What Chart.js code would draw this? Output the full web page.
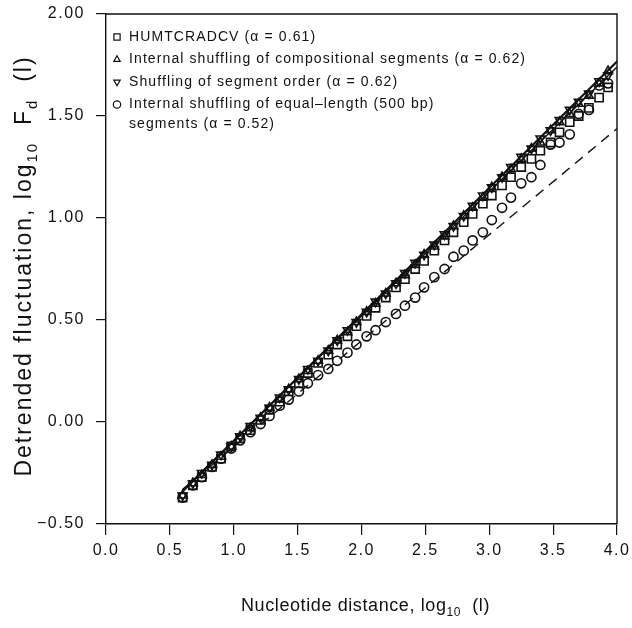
<!DOCTYPE html>
<html>
<head>
<meta charset="utf-8">
<script src="https://cdn.jsdelivr.net/npm/chart.js@4.4.0/dist/chart.umd.min.js"></script>
<style>
  html, body { margin: 0; padding: 0; background: #ffffff; }
  #wrap { width: 632px; height: 628px; }
</style>
</head>
<body>
<div id="wrap"><canvas id="dfa" width="632" height="628"></canvas></div>
<script>
// log10 of nucleotide distance l
const xDistance = [0.60, 0.68, 0.75, 0.83, 0.90, 0.98, 1.05, 1.13, 1.21, 1.28,
  1.36, 1.43, 1.51, 1.58, 1.66, 1.74, 1.81, 1.89, 1.96, 2.04,
  2.11, 2.19, 2.27, 2.34, 2.42, 2.49, 2.57, 2.65, 2.72, 2.80,
  2.87, 2.95, 3.02, 3.10, 3.17, 3.25, 3.33, 3.40, 3.48, 3.55,
  3.63, 3.70, 3.78, 3.86, 3.93];

// log10 Fd(l) for each sequence
const humtcradcv = [-0.37, -0.31, -0.27, -0.22, -0.18, -0.12, -0.08, -0.04, 0.01, 0.06,
  0.10, 0.15, 0.19, 0.24, 0.29, 0.33, 0.38, 0.42, 0.47, 0.52,
  0.56, 0.61, 0.66, 0.70, 0.75, 0.79, 0.84, 0.89, 0.93, 0.98,
  1.02, 1.07, 1.11, 1.16, 1.20, 1.25, 1.29, 1.33, 1.37, 1.42,
  1.47, 1.50, 1.54, 1.59, 1.64];
const shuffledCompositional = [-0.36, -0.30, -0.26, -0.21, -0.17, -0.12, -0.07, -0.03, 0.02, 0.07,
  0.11, 0.16, 0.21, 0.25, 0.30, 0.35, 0.40, 0.44, 0.49, 0.54,
  0.58, 0.63, 0.68, 0.72, 0.77, 0.82, 0.86, 0.91, 0.96, 1.01,
  1.05, 1.10, 1.15, 1.20, 1.24, 1.29, 1.34, 1.37, 1.43, 1.47,
  1.51, 1.56, 1.60, 1.66, 1.72];
const shuffledOrder = [-0.36, -0.30, -0.25, -0.21, -0.16, -0.12, -0.07, -0.02, 0.02, 0.07,
  0.12, 0.16, 0.21, 0.26, 0.30, 0.35, 0.40, 0.45, 0.49, 0.54,
  0.59, 0.63, 0.68, 0.73, 0.78, 0.82, 0.87, 0.92, 0.96, 1.01,
  1.06, 1.11, 1.15, 1.20, 1.25, 1.30, 1.34, 1.39, 1.43, 1.48,
  1.53, 1.57, 1.61, 1.67, 1.70];
const shuffledEqualLength = [-0.37, -0.31, -0.27, -0.22, -0.18, -0.13, -0.09, -0.05, -0.01, 0.03,
  0.08, 0.11, 0.15, 0.19, 0.23, 0.26, 0.30, 0.34, 0.38, 0.42,
  0.45, 0.49, 0.53, 0.57, 0.61, 0.66, 0.71, 0.75, 0.81, 0.84,
  0.89, 0.93, 0.99, 1.05, 1.10, 1.17, 1.20, 1.26, 1.36, 1.37,
  1.41, 1.51, 1.53, 1.65, 1.66];

// fitted power-law lines (end points)
const fitX = [0.60, 4.00];
const fitOriginal = [-0.334, 1.740];
const fitCompositional = [-0.343, 1.765];
const fitOrder = [-0.338, 1.770];
const fitEqualLength = [-0.330, 1.438];

const yTicks = [-0.5, 0.0, 0.5, 1.0, 1.5, 2.0];
const xTicks = [0.0, 0.5, 1.0, 1.5, 2.0, 2.5, 3.0, 3.5, 4.0];

const legendItems = [
  { style: 'rect', rotation: 0, lines: ['HUMTCRADCV (\u03b1 = 0.61)'] },
  { style: 'triangle', rotation: 0, lines: ['Internal shuffling of compositional segments (\u03b1 = 0.62)'] },
  { style: 'triangle', rotation: 180, lines: ['Shuffling of segment order (\u03b1 = 0.62)'] },
  { style: 'circle', rotation: 0, lines: ['Internal shuffling of equal\u2013length (500 bp)', 'segments (\u03b1 = 0.52)'] }
];

const FONT = "'Liberation Sans', Arial, Helvetica, sans-serif";
const INK = '#111111';
const toPoints = (xs, ys) => xs.map((x, i) => ({ x: x, y: ys[i] }));

function markerSet(label, ys, style, rotation, radius) {
  return {
    type: 'scatter',
    label: label,
    data: toPoints(xDistance, ys),
    pointStyle: style,
    rotation: rotation,
    pointRadius: radius,
    pointHoverRadius: radius,
    pointBorderWidth: 1.6,
    pointBorderColor: INK,
    pointBackgroundColor: 'rgba(255,255,255,0)',
    showLine: false
  };
}

function fitSet(label, ys, dash) {
  return {
    type: 'line',
    label: label,
    data: toPoints(fitX, ys),
    borderColor: INK,
    borderWidth: 1.4,
    borderDash: dash,
    pointRadius: 0,
    fill: false,
    tension: 0
  };
}

// wider tracking for the axis numbers
const tracking = {
  id: 'tracking',
  beforeDraw(chart) { chart.ctx.letterSpacing = '1.5px'; }
};

// frame, legend and axis titles with subscripts
const decorations = {
  id: 'decorations',
  afterDatasetsDraw(chart) {
    const ctx = chart.ctx;
    const a = chart.chartArea;
    ctx.save();
    ctx.strokeStyle = INK;
    ctx.lineWidth = 1.4;
    ctx.beginPath();
    ctx.moveTo(a.left, a.top);
    ctx.lineTo(a.right, a.top);
    ctx.lineTo(a.right, a.bottom);
    ctx.stroke();

    // legend
    ctx.letterSpacing = '1.1px';
    ctx.font = '14px ' + FONT;
    ctx.textBaseline = 'middle';
    ctx.lineWidth = 1.2;
    let y = a.top + 23;
    const mx = a.left + 11;
    legendItems.forEach(item => {
      ctx.fillStyle = 'rgba(255,255,255,0)';
      Chart.helpers.drawPoint(ctx, {
        pointStyle: item.style, rotation: item.rotation,
        radius: item.style === 'rect' ? 4.4 : 3.7, borderWidth: 1.2
      }, mx, y);
      ctx.fillStyle = INK;
      item.lines.forEach((t, k) => {
        ctx.fillText(t, a.left + 23, y + k * 19.5);
      });
      y += 22.5;
    });
    ctx.restore();
  },
  afterDraw(chart) {
    const ctx = chart.ctx;
    const a = chart.chartArea;
    ctx.save();
    ctx.fillStyle = INK;
    ctx.textBaseline = 'alphabetic';

    function runs(parts) {
      let w = 0;
      parts.forEach(p => { ctx.font = p.size + 'px ' + FONT; w += ctx.measureText(p.t).width; });
      return w;
    }
    function drawRuns(parts, x0, base, drop) {
      let x = x0;
      parts.forEach(p => {
        ctx.font = p.size + 'px ' + FONT;
        ctx.fillText(p.t, x, base + (p.sub ? drop : 0));
        x += ctx.measureText(p.t).width;
      });
    }

    ctx.letterSpacing = '0.6px';
    const xTitle = [
      { t: 'Nucleotide distance, log', size: 18 },
      { t: '10', size: 12, sub: true },
      { t: '  (l)', size: 18 }
    ];
    const wx = runs(xTitle);
    drawRuns(xTitle, (a.left + a.right) / 2 + 4 - wx / 2, 611, 5);

    ctx.letterSpacing = '2px';
    const yTitle = [
      { t: 'Detrended fluctuation, log', size: 23 },
      { t: '10', size: 15, sub: true },
      { t: '  F', size: 23 },
      { t: 'd', size: 15, sub: true },
      { t: '  (l)', size: 23 }
    ];
    const wy = runs(yTitle);
    ctx.translate(31, 266);
    ctx.rotate(-Math.PI / 2);
    drawRuns(yTitle, -wy / 2, 0, 6);
    ctx.restore();
  }
};

new Chart(document.getElementById('dfa'), {
  data: {
    datasets: [
      fitSet('HUMTCRADCV fit', fitOriginal, []),
      fitSet('Compositional fit', fitCompositional, []),
      fitSet('Segment order fit', fitOrder, []),
      fitSet('Equal-length fit', fitEqualLength, [10, 7]),
      markerSet('HUMTCRADCV', humtcradcv, 'rect', 0, 5.8),
      markerSet('Internal shuffling of compositional segments', shuffledCompositional, 'triangle', 0, 5.0),
      markerSet('Shuffling of segment order', shuffledOrder, 'triangle', 180, 5.0),
      markerSet('Internal shuffling of equal-length segments', shuffledEqualLength, 'circle', 0, 4.6)
    ]
  },
  options: {
    responsive: false,
    animation: false,
    devicePixelRatio: 1,
    layout: { padding: { top: 14, right: 15, left: 0, bottom: 0 } },
    plugins: { legend: { display: false }, tooltip: { enabled: false } },
    scales: {
      x: {
        type: 'linear',
        min: 0, max: 4,
        afterFit(s) { s.height = 104; s.paddingLeft = 0; s.paddingRight = 0; },
        afterBuildTicks(s) { s.ticks = xTicks.map(v => ({ value: v })); },
        border: { display: true, color: INK, width: 1.4 },
        grid: { drawOnChartArea: false, drawTicks: true, tickLength: 11, color: INK, lineWidth: 1.2 },
        ticks: {
          color: INK, padding: 6,
          font: { family: FONT, size: 16 },
          callback: v => Number(v).toFixed(1),
          maxRotation: 0
        }
      },
      y: {
        type: 'linear',
        min: -0.5, max: 2,
        afterFit(s) { s.width = 106; s.paddingTop = 0; s.paddingBottom = 0; },
        afterBuildTicks(s) { s.ticks = yTicks.map(v => ({ value: v })); },
        border: { display: true, color: INK, width: 1.4 },
        grid: { drawOnChartArea: false, drawTicks: true, tickLength: 10, color: INK, lineWidth: 1.2 },
        ticks: {
          color: INK, padding: 11,
          font: { family: FONT, size: 16 },
          callback: v => Number(v).toFixed(2).replace('-', '\u2212')
        }
      }
    }
  },
  plugins: [tracking, decorations]
});
</script>
</body>
</html>
